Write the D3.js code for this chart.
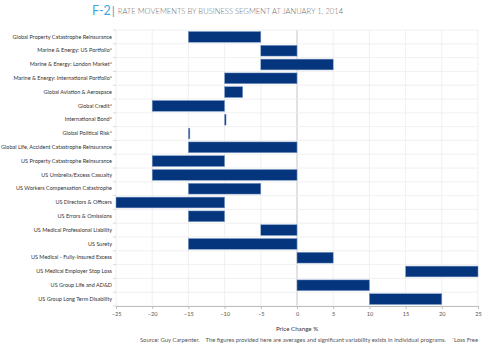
<!DOCTYPE html>
<html lang="en">
<head>
  <meta charset="UTF-8">
  <title>Rate movements</title>
  <script src="https://d3js.org/d3.v7.min.js"></script>
  <style>
    body { margin: 0; background: #fff; }
    text { font-family: Lato, "Open Sans", sans-serif; }
  </style>
</head>
<body>
  <script>
    var width = 500;
    var height = 346;

    var segments = [
      "Global Property Catastrophe Reinsurance",
      "Marine & Energy: US Portfolio*",
      "Marine & Energy: London Market*",
      "Marine & Energy: International Portfolio*",
      "Global Aviation & Aerospace",
      "Global Credit*",
      "International Bond*",
      "Global Political Risk*",
      "Global Life, Accident Catastrophe Reinsurance",
      "US Property Catastrophe Reinsurance",
      "US Umbrella/Excess Casualty",
      "US Workers Compensation Catastrophe",
      "US Directors & Officers",
      "US Errors & Omissions",
      "US Medical Professional Liability",
      "US Surety",
      "US Medical - Fully-Insured Excess",
      "US Medical Employer Stop Loss",
      "US Group Life and AD&D",
      "US Group Long Term Disability"
    ];
    var lowChange  = [-15, -5, -5, -10, -10, -20, -10, -15, -15, -20, -20, -15, -25, -15, -5, -15, 0, 15, 0, 10];
    var highChange = [-5, 0, 5, 0, -7.5, -10, -9.8, -14.8, 0, -10, 0, -5, -10, -10, 0, 0, 5, 25, 10, 20];
    var xTicks = [-25, -20, -15, -10, -5, 0, 5, 10, 15, 20, 25];

    var margin = { top: 30, right: 22, bottom: 40, left: 116 };

    var svg = d3.select("body").append("svg")
      .attr("width", width)
      .attr("height", height);

    // title
    var title = svg.append("text").attr("x", 92).attr("y", 15);
    title.append("tspan").text("F-2").attr("fill", "#3ea8de").style("font-size", "12.5px");
    title.append("tspan").text("|").attr("fill", "#6b8fb8").attr("dx", 1).style("font-size", "12px");
    title.append("tspan").text("RATE MOVEMENTS BY BUSINESS SEGMENT AT JANUARY 1, 2014")
      .attr("fill", "#707070").attr("dx", 3).attr("dy", -1)
      .style("font-size", "7.6px").style("font-weight", 300);

    var x = d3.scaleLinear().domain([-25, 25]).range([margin.left, width - margin.right]);
    var y = d3.scaleBand().domain(segments).range([margin.top, 306]).paddingInner(0.22).paddingOuter(0.11);

    var g = svg.append("g");

    // vertical grid
    g.selectAll(".vgrid").data(xTicks).enter().append("line")
      .attr("x1", d => x(d)).attr("x2", d => x(d))
      .attr("y1", margin.top).attr("y2", 306)
      .attr("stroke", d => d === 0 ? "#c4c4c4" : "#ececec")
      .attr("stroke-width", d => d === 0 ? 1 : 0.8);

    // horizontal grid between rows
    var rowEdges = d3.range(segments.length + 1).map(i => margin.top + i * (306 - margin.top) / segments.length);
    g.selectAll(".hgrid").data(rowEdges).enter().append("line")
      .attr("x1", margin.left).attr("x2", width - margin.right)
      .attr("y1", d => d).attr("y2", d => d)
      .attr("stroke", "#ececec").attr("stroke-width", 0.8);

    // bars
    g.selectAll(".bar").data(segments).enter().append("rect")
      .attr("x", (d, i) => x(lowChange[i]))
      .attr("width", (d, i) => x(highChange[i]) - x(lowChange[i]))
      .attr("y", d => y(d))
      .attr("height", y.bandwidth())
      .attr("fill", "#04357d")
      .attr("stroke", "#7f9cc8")
      .attr("stroke-width", 0.5);

    // y axis
    var yAxis = svg.append("g")
      .attr("transform", "translate(" + margin.left + ",0)")
      .call(d3.axisLeft(y).tickSize(0).tickPadding(4));
    yAxis.select(".domain").remove();
    yAxis.selectAll("text").attr("fill", "#333").style("font-size", "5.5px");
    svg.selectAll(".ytick").data(rowEdges).enter().append("line")
      .attr("x1", margin.left - 3).attr("x2", margin.left)
      .attr("y1", d => d).attr("y2", d => d)
      .attr("stroke", "#cfcfcf").attr("stroke-width", 0.8);

    // x axis
    var xAxis = svg.append("g")
      .attr("transform", "translate(0,306)")
      .call(d3.axisBottom(x).tickValues(xTicks).tickSize(3).tickPadding(3));
    xAxis.select(".domain").attr("stroke", "#bdbdbd");
    xAxis.selectAll("line").attr("stroke", "#bdbdbd");
    xAxis.selectAll("text").attr("fill", "#555").style("font-size", "5.6px");

    svg.append("text")
      .attr("x", x(0)).attr("y", 331)
      .attr("text-anchor", "middle")
      .attr("fill", "#333")
      .style("font-size", "6.2px")
      .text("Price Change %");

    var note = svg.append("text")
      .attr("x", width - margin.right).attr("y", 342)
      .attr("text-anchor", "end")
      .attr("fill", "#555")
      .style("font-size", "5.9px");
    note.append("tspan").text("Source: Guy Carpenter.\u00a0\u00a0\u00a0\u00a0The figures provided here are averages and significant variability exists in individual programs.\u00a0\u00a0\u00a0\u00a0");
    note.append("tspan").text("*").attr("dy", -1.5).style("font-size", "4.5px");
    note.append("tspan").text("Loss Free").attr("dy", 1.5);
  </script>
</body>
</html>
